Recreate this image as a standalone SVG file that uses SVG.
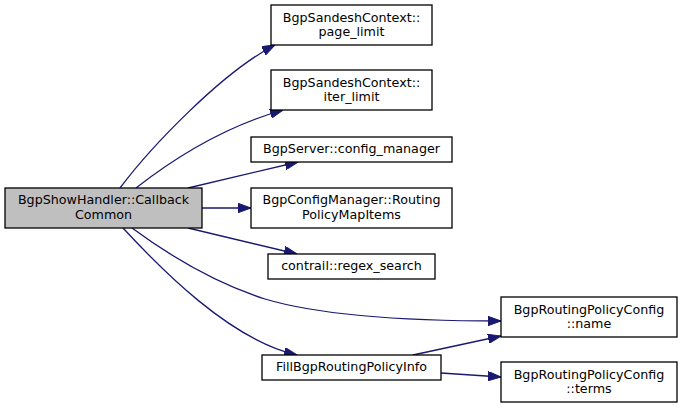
<svg xmlns="http://www.w3.org/2000/svg" width="683" height="408" viewBox="0 0 683 408">
<style>
.node rect{fill:#ffffff;stroke:#000000;stroke-width:1.3}
.node.main rect{fill:#bfbfbf}
.node text{font-family:"DejaVu Sans","Liberation Sans",sans-serif;font-size:12.7px;fill:#000000;text-anchor:middle}
.edges path{fill:none;stroke:#191970;stroke-width:1.3;marker-end:url(#arr)}
</style>
<defs>
<marker id="arr" viewBox="0 0 13 9.4" refX="13" refY="4.7" markerWidth="13" markerHeight="9.4" markerUnits="userSpaceOnUse" orient="auto">
<path d="M0,0 L13,4.7 L0,9.4 z" fill="#191970" stroke="#191970" stroke-width="1"/>
</marker>
</defs>
<rect width="683" height="408" fill="#ffffff"/>
<g id="edges" class="edges">
<path d="M120,188 C150,148 222,72 275,45"/>
<path d="M136,188 C168,163 220,128 283,110"/>
<path d="M188,188 L298,162"/>
<path d="M202,208 L251,208"/>
<path d="M188,228 L297,254"/>
<path d="M132,228 C170,256 215,283 265,299 C325,317 420,321 501,321"/>
<path d="M123,228 C160,268 230,340 297,355"/>
<path d="M413,355 L501,336"/>
<path d="M441,373 L501,377"/>
</g>
<g id="node-main" class="node main">
<rect x="5" y="188" width="197" height="40"/>
<text x="103.5" y="204">BgpShowHandler::Callback</text>
<text x="103.5" y="218.5">Common</text>
</g>
<g id="node-page-limit" class="node">
<rect x="271" y="5" width="161" height="40"/>
<text x="351.5" y="21.5">BgpSandeshContext::</text>
<text x="351.5" y="36">page_limit</text>
</g>
<g id="node-iter-limit" class="node">
<rect x="271" y="70" width="161" height="40"/>
<text x="351.5" y="86.5">BgpSandeshContext::</text>
<text x="351.5" y="101">iter_limit</text>
</g>
<g id="node-config-manager" class="node">
<rect x="251" y="137" width="201" height="25"/>
<text x="351.5" y="153">BgpServer::config_manager</text>
</g>
<g id="node-routing-policy-map-items" class="node">
<rect x="251" y="188" width="201" height="40"/>
<text x="351.5" y="204">BgpConfigManager::Routing</text>
<text x="351.5" y="218.5">PolicyMapItems</text>
</g>
<g id="node-regex-search" class="node">
<rect x="268" y="254" width="167" height="25"/>
<text x="351.5" y="270">contrail::regex_search</text>
</g>
<g id="node-fill" class="node">
<rect x="262" y="355" width="179" height="25"/>
<text x="351.5" y="371">FillBgpRoutingPolicyInfo</text>
</g>
<g id="node-name" class="node">
<rect x="501" y="297" width="176" height="40"/>
<text x="589" y="313.5">BgpRoutingPolicyConfig</text>
<text x="589" y="328">::name</text>
</g>
<g id="node-terms" class="node">
<rect x="501" y="362" width="176" height="40"/>
<text x="589" y="378.5">BgpRoutingPolicyConfig</text>
<text x="589" y="393">::terms</text>
</g>
</svg>
